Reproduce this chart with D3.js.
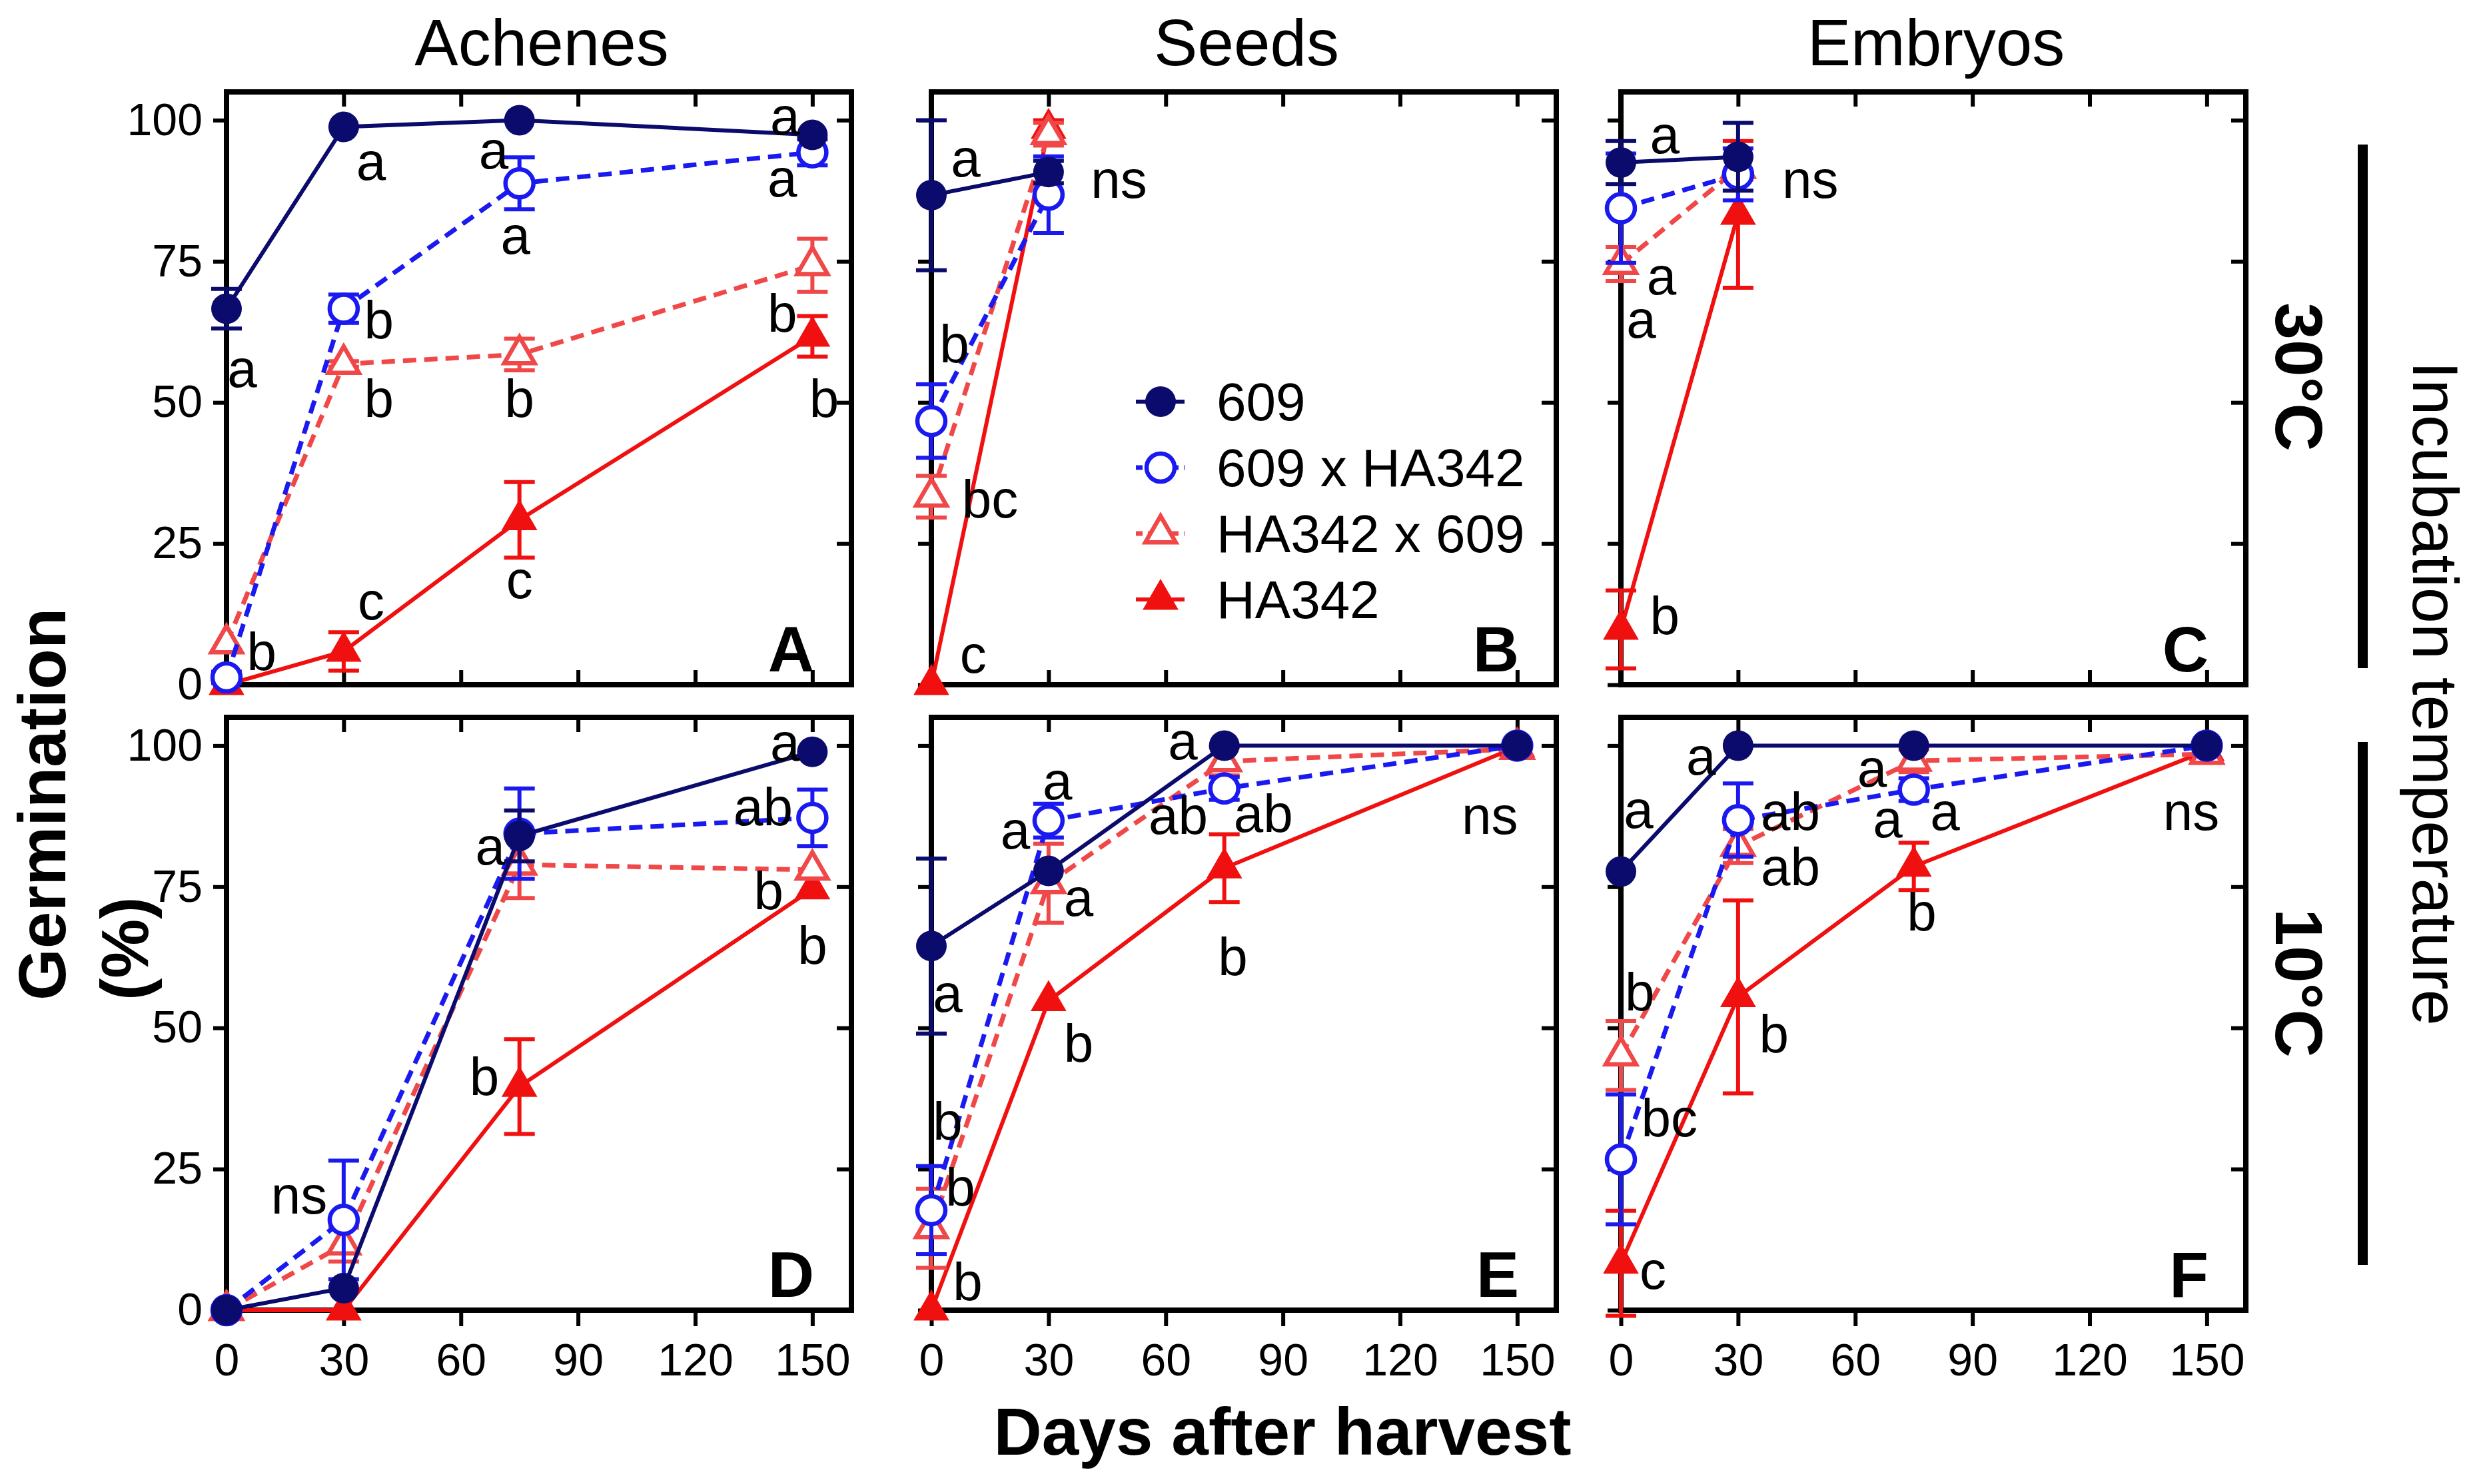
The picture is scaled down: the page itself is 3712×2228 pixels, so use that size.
<!DOCTYPE html>
<html>
<head>
<meta charset="utf-8">
<script src="https://cdn.jsdelivr.net/npm/d3@7"></script>
<style>
  body { margin: 0; background: #fff; }
  svg { display: block; }
</style>
</head>
<body>
<svg width="3712" height="2228"></svg>
<script>
// ---- data ----
const days = [0, 30, 75, 150];
const seriesNames = ['609', '609 x HA342', 'HA342 x 609', 'HA342'];
const columnTitles = ['Achenes', 'Seeds', 'Embryos'];
const panelLetters = ['A', 'B', 'C', 'D', 'E', 'F'];
const yTicks = [0, 25, 50, 75, 100];
const xTicks = [0, 30, 60, 90, 120, 150];

// germination (%) per series (rows follow seriesNames), error bars = SEM
const meanA = [[66.6, 98.8, 100, 97.4], [1.3, 66.6, 88.8, 94.3], [7.3, 56.8, 58.5, 74.3], [0, 5.9, 29.2, 61.7]];
const errA  = [[3.5, 0, 0, 0], [1, 2.5, 4.6, 2.3], [0, 0.5, 2.8, 4.7], [0, 3.4, 6.7, 3.6]];
const meanB = [[86.7, 90.8], [46.7, 86.8], [33.3, 97.5], [0, 98.5]];
const errB  = [[13.3, 2], [6.5, 6.8], [3.7, 2], [0, 1.5]];
const meanC = [[92.5, 93.5], [84.4, 90.4], [74.5, 91.5], [9.8, 83.3]];
const errC  = [[3.8, 6], [9.7, 4.6], [3, 2], [6.9, 13]];
const meanD = [[0, 3.9, 84.0, 98.9], [0, 16.0, 84.4, 87.2], [0, 11.6, 78.9, 78], [0, 0, 39.6, 74.6]];
const errD  = [[0, 0, 4.5, 0], [0, 10.5, 8, 5], [0, 3, 5.9, 0], [0, 0, 8.4, 0]];
const meanE = [[64.5, 77.8, 100, 100], [17.7, 86.7, 92.4, 100], [14.5, 75.6, 97.2, 99.4], [0, 54.8, 78.3, 99.8]];
const errE  = [[15.5, 0, 0, 0], [7.8, 3, 2, 0], [7, 7, 2.5, 0], [0, 0, 6, 0]];
const meanF = [[77.7, 100, 100, 100], [26.7, 86.8, 92.2, 100], [45.1, 82.2, 97.3, 98.5], [8.3, 55.5, 78.6, 99.1]];
const errF  = [[0, 0, 0, 0], [11.5, 6.5, 2, 0], [6.1, 3, 2, 0], [9.3, 17.1, 4.2, 0]];

// significance letters: [day, germination, text]
const annA = [[4, 56, 'a'], [37, 92.7, 'a'], [68.4, 94.7, 'a'], [74, 79.6, 'a'], [143, 100.8, 'a'], [142.3, 89.8, 'a'],
  [39, 64.6, 'b'], [9, 5.9, 'b'], [39, 50.7, 'b'], [75, 50.7, 'b'], [142.3, 65.8, 'b'], [153, 50.7, 'b'],
  [37, 14.9, 'c'], [75, 18.6, 'c']];
const annB = [[8.8, 93.3, 'a'], [48, 89.6, 'ns'], [5.9, 60.4, 'b'], [15, 32.9, 'bc'], [10.7, 5.4, 'c']];
const annC = [[11.2, 97.5, 'a'], [10.4, 72.4, 'a'], [5.2, 64.8, 'a'], [11.2, 12.3, 'b'], [48.5, 89.6, 'ns']];
const annD = [[18.6, 20.4, 'ns'], [67.5, 82.2, 'a'], [66, 41.4, 'b'], [143, 100.6, 'a'], [137.4, 89.2, 'ab'],
  [138.8, 74.3, 'b'], [150, 64.6, 'b']];
const annE = [[4.2, 56.1, 'a'], [4.2, 33.5, 'b'], [7.4, 21.8, 'b'], [9.3, 5.1, 'b'], [32.3, 93.8, 'a'], [21.5, 85.1, 'a'],
  [37.7, 73.2, 'a'], [37.7, 47.3, 'b'], [64.4, 100.9, 'a'], [63.2, 87.6, 'ab'], [85, 88, 'ab'], [77.2, 62.6, 'b'],
  [143, 87.6, 'ns']];
const annF = [[4.5, 88.7, 'a'], [20.5, 98.2, 'a'], [43.4, 88.4, 'ab'], [43.4, 78.6, 'ab'], [64.3, 96, 'a'],
  [68.3, 87.1, 'a'], [83, 88.4, 'a'], [77, 70.6, 'b'], [4.8, 56.4, 'b'], [12.4, 34.1, 'bc'], [8.2, 7.1, 'c'],
  [39.2, 49, 'b'], [146, 88.4, 'ns']];

// ---- layout ----
const svg = d3.select('svg');
const font = '"Liberation Sans", Arial, Helvetica, sans-serif';
const colLeft = [340, 1398, 2433];
const rowTop = [138, 1077];
const pw = 938, ph = 890;
const colors = ['#0b0b6e', '#1a1af0', '#f04848', '#f01010'];
const dashed = [false, true, true, false];

const panels = [
  { mean: meanA, err: errA, ann: annA, col: 0, row: 0 },
  { mean: meanB, err: errB, ann: annB, col: 1, row: 0 },
  { mean: meanC, err: errC, ann: annC, col: 2, row: 0 },
  { mean: meanD, err: errD, ann: annD, col: 0, row: 1 },
  { mean: meanE, err: errE, ann: annE, col: 1, row: 1 },
  { mean: meanF, err: errF, ann: annF, col: 2, row: 1 }
];

const x = d3.scaleLinear().domain([0, 160]).range([0, pw]);
const y = d3.scaleLinear().domain([0, 105]).range([ph, 0]);

function styleAxis(sel) {
  sel.attr('font-size', 68).attr('font-family', font);
  sel.select('.domain').remove();
  sel.selectAll('line').attr('stroke', '#000').attr('stroke-width', 6);
  sel.selectAll('text').attr('fill', '#000');
}

function marker(sel, s, cx, cy) {
  if (s === 0) {
    sel.append('circle').attr('cx', cx).attr('cy', cy).attr('r', 23).attr('fill', colors[0]);
  } else if (s === 1) {
    sel.append('circle').attr('cx', cx).attr('cy', cy).attr('r', 21)
      .attr('fill', '#fff').attr('stroke', colors[1]).attr('stroke-width', 6.5);
  } else {
    sel.append('path')
      .attr('d', d3.symbol(d3.symbolTriangle, s === 2 ? 900 : 1250)())
      .attr('transform', `translate(${cx},${cy})`)
      .attr('fill', s === 2 ? '#fff' : colors[3])
      .attr('stroke', s === 2 ? colors[2] : 'none')
      .attr('stroke-width', 6.5);
  }
}

const line = d3.line().x(d => x(d.day)).y(d => y(d.v));

panels.forEach((p, i) => {
  const g = svg.append('g').attr('transform', `translate(${colLeft[p.col]},${rowTop[p.row]})`);

  // axes: left outward, right/top inward, bottom inward on top row
  const left = d3.axisLeft(y).tickValues(yTicks).tickSize(20).tickSizeOuter(0).tickPadding(16);
  if (p.col > 0) left.tickFormat('');
  g.append('g').call(left).call(styleAxis);
  g.append('g').attr('transform', `translate(${pw},0)`)
    .call(d3.axisRight(y).tickValues(yTicks).tickSize(-22).tickSizeOuter(0).tickFormat('')).call(styleAxis);
  g.append('g')
    .call(d3.axisTop(x).tickValues(xTicks).tickSize(-22).tickSizeOuter(0).tickFormat('')).call(styleAxis);
  const bottom = d3.axisBottom(x).tickValues(xTicks).tickSizeOuter(0);
  if (p.row === 0) bottom.tickSize(-22).tickFormat('');
  else bottom.tickSize(24).tickPadding(26);
  g.append('g').attr('transform', `translate(0,${ph})`).call(bottom).call(styleAxis);

  g.append('rect').attr('width', pw).attr('height', ph)
    .attr('fill', 'none').attr('stroke', '#000').attr('stroke-width', 8);

  // series, drawn so that 609 ends on top
  const n = p.mean[0].length;
  for (let s = 3; s >= 0; s--) {
    const pts = days.slice(0, n).map((d, j) => ({ day: d, v: p.mean[s][j], e: p.err[s][j] }));
    const sg = g.append('g');
    sg.append('path').datum(pts).attr('d', line)
      .attr('fill', 'none').attr('stroke', colors[s])
      .attr('stroke-width', dashed[s] ? 7 : 6)
      .attr('stroke-dasharray', dashed[s] ? '20,12' : null);
    pts.filter(d => d.e > 0).forEach(d => {
      const cx = x(d.day), y0 = y(d.v - d.e), y1 = y(d.v + d.e);
      sg.append('path')
        .attr('d', `M${cx},${y0}V${y1}M${cx - 23},${y0}H${cx + 23}M${cx - 23},${y1}H${cx + 23}`)
        .attr('stroke', colors[s]).attr('stroke-width', 6).attr('fill', 'none');
    });
    pts.forEach(d => marker(sg, s, x(d.day), y(d.v)));
  }

  // letters
  g.append('g').selectAll('text').data(p.ann).join('text')
    .attr('x', d => x(d[0])).attr('y', d => y(d[1])).attr('dy', '0.35em')
    .attr('text-anchor', 'middle').attr('font-family', font).attr('font-size', 80)
    .text(d => d[2]);

  g.append('text').attr('x', pw - 56).attr('y', ph - 20).attr('text-anchor', 'end')
    .attr('font-family', font).attr('font-weight', 'bold').attr('font-size', 96)
    .text(panelLetters[i]);

  if (p.row === 0) {
    svg.append('text').attr('x', colLeft[p.col] + pw / 2 + 4).attr('y', 98)
      .attr('text-anchor', 'middle').attr('font-family', font).attr('font-size', 98)
      .text(columnTitles[p.col]);
  }

  // legend sits inside panel B
  if (i === 1) {
    const lg = g.append('g').attr('transform', 'translate(307,465)');
    seriesNames.forEach((name, s) => {
      const row = lg.append('g').attr('transform', `translate(0,${s * 99})`);
      row.append('line').attr('x1', 0).attr('x2', 73)
        .attr('stroke', colors[s]).attr('stroke-width', dashed[s] ? 7 : 6)
        .attr('stroke-dasharray', dashed[s] ? '10,8' : null);
      marker(row, s, 37, 0);
      row.append('text').attr('x', 121).attr('dy', '0.35em')
        .attr('font-family', font).attr('font-size', 80).text(name);
    });
  }
});

// ---- outer labels ----
svg.append('text').attr('x', 1925).attr('y', 2184).attr('text-anchor', 'middle')
  .attr('font-family', font).attr('font-weight', 'bold').attr('font-size', 100)
  .text('Days after harvest');

svg.append('text').attr('transform', 'translate(98,1502) rotate(-90)')
  .attr('font-family', font).attr('font-weight', 'bold').attr('font-size', 100)
  .text('Germination');
svg.append('text').attr('transform', 'translate(222,1502) rotate(-90)')
  .attr('font-family', font).attr('font-weight', 'bold').attr('font-size', 100)
  .text('(%)');

const temps = [['30°C', 566], ['10°C', 1476]];
temps.forEach(t => {
  svg.append('text').attr('transform', `translate(3416,${t[1]}) rotate(90)`)
    .attr('text-anchor', 'middle').attr('font-family', font)
    .attr('font-weight', 'bold').attr('font-size', 100).text(t[0]);
});

svg.append('rect').attr('x', 3539).attr('y', 217).attr('width', 15).attr('height', 786).attr('fill', '#000');
svg.append('rect').attr('x', 3539).attr('y', 1114).attr('width', 15).attr('height', 785).attr('fill', '#000');

svg.append('text').attr('transform', 'translate(3622,1041) rotate(90)')
  .attr('text-anchor', 'middle').attr('font-family', font).attr('font-size', 97)
  .text('Incubation temperature');
</script>
</body>
</html>
